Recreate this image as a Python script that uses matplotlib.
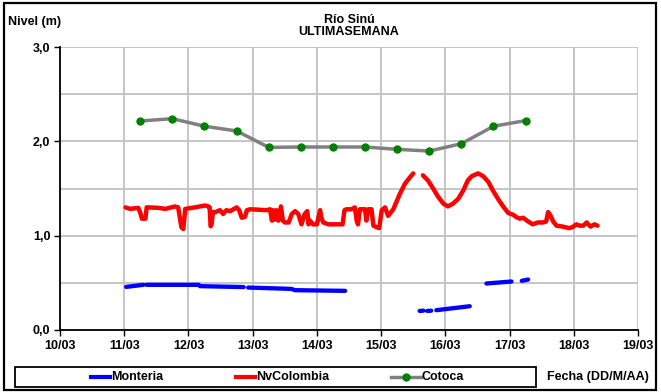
import numpy as np
import matplotlib
matplotlib.use("Agg")
import matplotlib.pyplot as plt
from matplotlib.lines import Line2D
from matplotlib.patches import Rectangle

nan = np.nan

# ---- data (x = day of March, y = level in m) ----
x_ticks = [10, 11, 12, 13, 14, 15, 16, 17, 18, 19]
x_labels = ["10/03", "11/03", "12/03", "13/03", "14/03", "15/03", "16/03", "17/03", "18/03", "19/03"]
y_ticks = [0.0, 1.0, 2.0, 3.0]
y_labels = ["0,0", "1,0", "2,0", "3,0"]

monteria_t = [11.03, 11.30, nan, 11.35, 12.16, 12.18, 12.86, nan, 12.93, 13.60, 13.66, 14.44, nan,
              15.60, 15.66, nan, 15.72, 15.78, nan, 15.86, 16.38, nan, 16.64, 17.03, nan, 17.19, 17.29]
monteria_v = [0.457, 0.479, nan, 0.479, 0.479, 0.465, 0.455, nan, 0.450, 0.436, 0.422, 0.415, nan,
              0.202, 0.205, nan, 0.202, 0.205, nan, 0.21, 0.252, nan, 0.493, 0.514, nan, 0.521, 0.535]

nvcol_t = [11.02, 11.09, 11.22, 11.26, 11.275, 11.33, 11.35, 11.53, 11.64, 11.79, 11.84, 11.89, 11.92, 11.95,
           12.10, 12.26, 12.31, 12.33, 12.345, 12.36, 12.38, 12.42, 12.49, 12.54, 12.59, 12.65, 12.70, 12.75,
           12.79, 12.83, 12.88, 12.91, 12.96, 13.22, 13.27, 13.30, 13.32, 13.35, 13.37, 13.40, 13.44, 13.47,
           13.50, 13.56, 13.61, 13.66, 13.71, 13.76, 13.81, 13.85, 13.87, 13.89, 13.94, 14.00, 14.05, 14.07,
           14.10, 14.18, 14.33, 14.40, 14.43, 14.46, 14.54, 14.59, 14.62, 14.64, 14.67, 14.75, 14.77, 14.80,
           14.85, 14.88, 14.93, 14.97, 15.01, 15.06, 15.11, 15.19, 15.29, 15.37, 15.45, 15.50, nan,
           15.65, 15.73, 15.81, 15.89, 15.97, 16.04, 16.12, 16.20, 16.28, 16.35, 16.41, 16.51, 16.59, 16.67,
           16.74, 16.82, 16.90, 16.98, 17.06, 17.11, 17.16, 17.21, 17.29, 17.36, 17.44, 17.52, 17.57, 17.60,
           17.64, 17.68, 17.73, 17.83, 17.93, 17.98, 18.04, 18.09, 18.15, 18.20, 18.26, 18.32, 18.37]
nvcol_v = [1.30, 1.284, 1.295, 1.22, 1.18, 1.18, 1.30, 1.295, 1.284, 1.31, 1.30, 1.09, 1.07, 1.284,
           1.30, 1.32, 1.31, 1.30, 1.10, 1.12, 1.25, 1.25, 1.27, 1.23, 1.27, 1.26, 1.28, 1.30,
           1.27, 1.19, 1.20, 1.27, 1.28, 1.27, 1.28, 1.16, 1.27, 1.17, 1.27, 1.16, 1.31, 1.16,
           1.14, 1.14, 1.23, 1.26, 1.23, 1.12, 1.23, 1.26, 1.12, 1.16, 1.12, 1.12, 1.27, 1.19,
           1.14, 1.12, 1.12, 1.12, 1.27, 1.28, 1.28, 1.30, 1.16, 1.12, 1.28, 1.28, 1.16, 1.28,
           1.28, 1.106, 1.09, 1.08, 1.27, 1.30, 1.21, 1.28, 1.44, 1.55, 1.62, 1.66, nan,
           1.64, 1.585, 1.50, 1.41, 1.34, 1.31, 1.34, 1.39, 1.48, 1.585, 1.63, 1.66, 1.63, 1.57,
           1.48, 1.39, 1.31, 1.24, 1.22, 1.195, 1.18, 1.19, 1.15, 1.12, 1.14, 1.14, 1.15, 1.25,
           1.21, 1.15, 1.106, 1.096, 1.08, 1.09, 1.12, 1.106, 1.106, 1.14, 1.096, 1.12, 1.106]

cotoca_t = [11.25, 11.75, 12.25, 12.75, 13.25, 13.75, 14.25, 14.75, 15.25, 15.75, 16.25, 16.75, 17.25]
cotoca_v = [2.216, 2.24, 2.16, 2.11, 1.936, 1.94, 1.94, 1.94, 1.915, 1.897, 1.975, 2.16, 2.22]

# ---- figure ----
W, H = 661, 392
fig = plt.figure(figsize=(W / 100, H / 100), dpi=100)
plt.rcParams['font.family'] = ['Liberation Sans', 'DejaVu Sans']
FS = 9

def fx(px):
    return px / W

def fy(py):
    return 1 - py / H

ax = fig.add_axes([fx(60), fy(330), fx(638) - fx(60), fy(47) - fy(330)])

ax.plot(monteria_t, monteria_v, color="#0000FF", lw=3.1, solid_capstyle="round")
ax.plot(nvcol_t, nvcol_v, color="#FF0000", lw=3.2, solid_capstyle="round", solid_joinstyle="round")
ax.plot(cotoca_t, cotoca_v, color="#808080", lw=2.5, marker="o", ms=5,
        markerfacecolor="#008000", markeredgecolor="#008000")

ax.set_xlim(10, 19)
ax.set_ylim(0, 3)
ax.set_xticks(x_ticks)
ax.set_xticklabels(x_labels, fontsize=FS, fontweight="bold")
ax.set_yticks(y_ticks)
ax.set_yticklabels(y_labels, fontsize=FS, fontweight="bold")
ax.set_yticks(np.arange(0, 3.01, 0.5), minor=True)
ax.tick_params(axis="both", which="major", direction="out", length=4, width=1, color="black", pad=3)
ax.tick_params(axis="y", which="minor", length=0)
ax.grid(True, which="both", axis="both", color="#C0C0C0", lw=1.3)
ax.set_axisbelow(True)
for s in ["top", "right"]:
    ax.spines[s].set_visible(False)
for s in ["left", "bottom"]:
    ax.spines[s].set_linewidth(1.3)
    ax.spines[s].set_color("black")

# titles
fig.text(fx(349), fy(20), "Río Sinú", ha="center", va="center", fontsize=FS, fontweight="bold")
fig.text(fx(349), fy(32), "ULTIMASEMANA", ha="center", va="center", fontsize=FS, fontweight="bold")
fig.text(fx(8), fy(22), "Nivel (m)", ha="left", va="center", fontsize=FS, fontweight="bold")
fig.text(fx(547), fy(377), "Fecha (DD/M/AA)", ha="left", va="center", fontsize=FS, fontweight="bold")

# legend box
fig.patches.append(Rectangle((fx(15), fy(387)), fx(536) - fx(15), fy(367) - fy(387),
                             transform=fig.transFigure, fill=False, edgecolor="black", lw=1.3))
entries = [("Monteria", "#0000FF", None, 91), ("NvColombia", "#FF0000", None, 236),
           ("Cotoca", "#808080", "#008000", 391)]
for name, col, mcol, x0 in entries:
    if mcol is None:
        fig.add_artist(Line2D([fx(x0), fx(x0 + 19)], [fy(377), fy(377)], transform=fig.transFigure,
                              color=col, lw=3.0))
    else:
        fig.add_artist(Line2D([fx(x0), fx(x0 + 30)], [fy(377), fy(377)], transform=fig.transFigure,
                              color=col, lw=2.5))
        fig.add_artist(Line2D([fx(x0 + 15)], [fy(377)], transform=fig.transFigure, marker="o", ms=5,
                              color=mcol, lw=0))
    fig.text(fx(x0 + (20 if mcol is None else 31)), fy(377), name, ha="left", va="center",
             fontsize=FS, fontweight="bold")

# outer frame
fig.patches.append(Rectangle((fx(4), fy(390)), fx(656) - fx(4), fy(3) - fy(390),
                             transform=fig.transFigure, fill=False, edgecolor="black", lw=1.6))

fig.savefig("out.png", dpi=100)
